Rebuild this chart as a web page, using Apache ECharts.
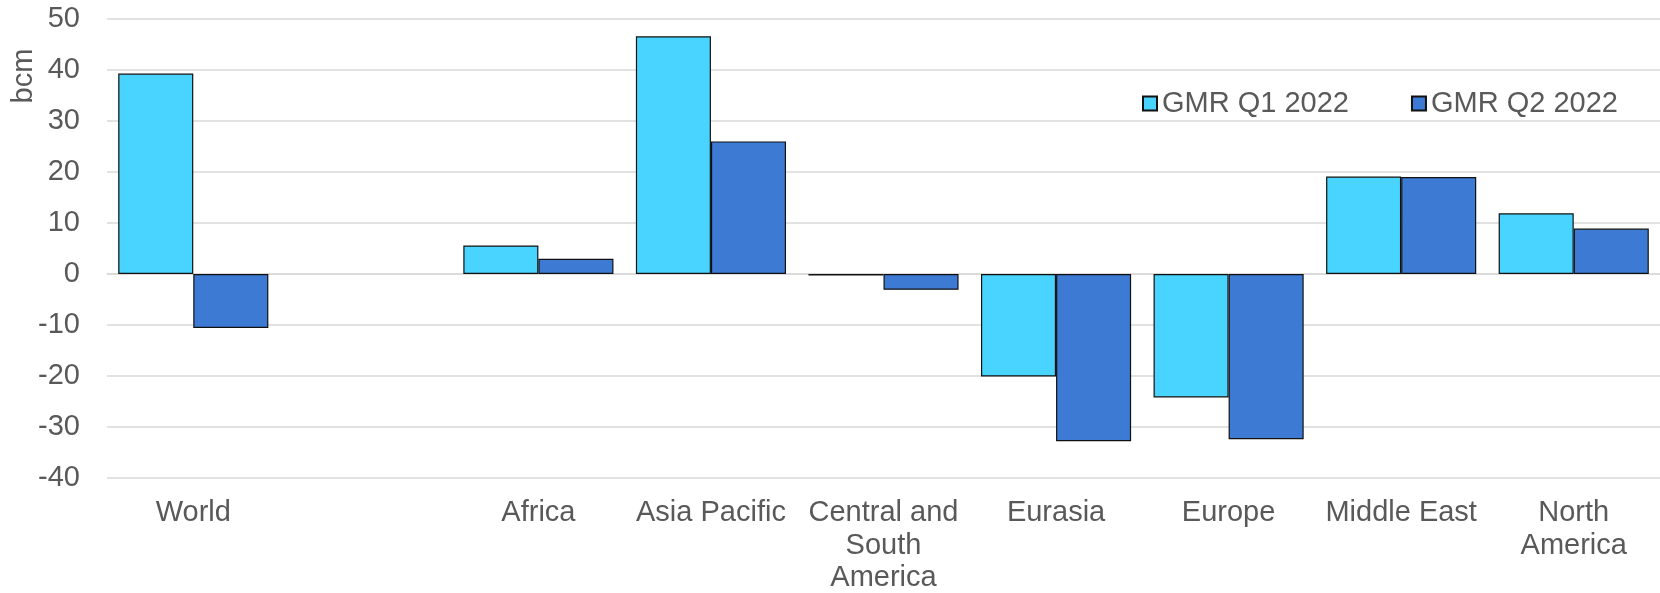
<!DOCTYPE html>
<html>
<head>
<meta charset="utf-8">
<title>Gas demand revisions by region</title>
<script src="https://cdn.jsdelivr.net/npm/echarts@6/dist/echarts.min.js"></script>
<style>
  html, body { margin: 0; padding: 0; background: #ffffff; }
  #chart { width: 1660px; height: 593px; }
</style>
</head>
<body>
<div id="chart"></div>
<script>
// Regions (the empty entry leaves a gap after World)
const categories = ['World', '', 'Africa', 'Asia Pacific', 'Central and\nSouth\nAmerica', 'Eurasia', 'Europe', 'Middle East', 'North\nAmerica'];
// Revisions in bcm
const gmrQ1 = [39.3, null, 5.6, 46.6, -0.3, -20.1, -24.2, 19.1, 11.9];
const gmrQ2 = [-10.6, null, 3.0, 26.0, -3.1, -32.8, -32.4, 19.0, 8.9];
const seriesNames = ['GMR Q1 2022', 'GMR Q2 2022'];
const unitLabel = 'bcm';

const FONT = "'Liberation Sans', Arial, sans-serif";
const TEXT = '#595959';
const FS = 29;

const chart = echarts.init(document.getElementById('chart'), null, { renderer: 'canvas' });

chart.setOption({
  animation: false,
  backgroundColor: '#ffffff',
  textStyle: { fontFamily: FONT },
  grid: {
    left: 107, right: 0, top: 19, bottom: 115,
    containLabel: false,
    outerBoundsMode: 'none'
  },
  legend: {
    left: 1137,
    top: 83,
    itemWidth: 14,
    itemHeight: 14,
    itemGap: 62,
    icon: 'rect',
    textStyle: { fontFamily: FONT, fontSize: FS, color: TEXT, lineHeight: 31 },
    data: seriesNames
  },
  xAxis: {
    type: 'category',
    data: categories,
    axisLine: { show: true, onZero: true, lineStyle: { color: '#D9D9D9', width: 1.5 } },
    axisTick: { show: false },
    axisLabel: {
      interval: 0,
      margin: 19,
      fontFamily: FONT,
      fontSize: FS,
      lineHeight: 32.5,
      color: TEXT,
      align: 'center'
    }
  },
  yAxis: {
    type: 'value',
    min: -40,
    max: 50,
    interval: 10,
    axisLine: { show: false },
    axisTick: { show: false },
    splitLine: { show: true, lineStyle: { color: '#D9D9D9', width: 1.5 } },
    axisLabel: { margin: 27, fontFamily: FONT, fontSize: FS, color: TEXT }
  },
  graphic: [{
    type: 'text',
    x: 24,
    y: 76,
    rotation: Math.PI / 2,
    style: {
      text: unitLabel,
      fontFamily: FONT,
      fontSize: FS,
      fill: TEXT,
      align: 'center',
      verticalAlign: 'middle'
    }
  }],
  series: [
    {
      name: seriesNames[0],
      type: 'bar',
      data: gmrQ1,
      barGap: '0%',
      barCategoryGap: '13%',
      itemStyle: { color: '#48D4FF', borderColor: '#111111', borderWidth: 1.2 }
    },
    {
      name: seriesNames[1],
      type: 'bar',
      data: gmrQ2,
      barGap: '0%',
      barCategoryGap: '13%',
      itemStyle: { color: '#3D7AD4', borderColor: '#111111', borderWidth: 1.2 }
    }
  ]
});
</script>
</body>
</html>
